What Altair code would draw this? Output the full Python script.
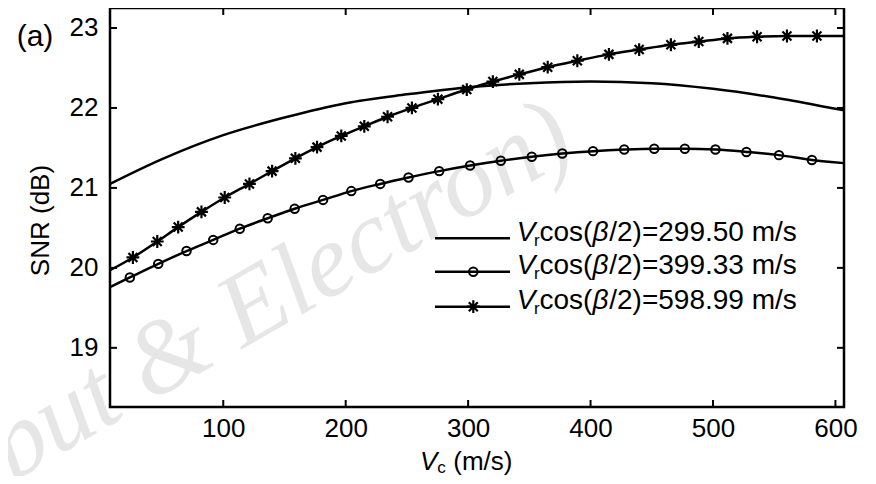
import altair as alt
import pandas as pd

# ---------------- data ----------------
x_ticks = [100, 200, 300, 400, 500, 600]
y_ticks = [19, 20, 21, 22, 23]

labels = ["299.50", "399.33", "598.99"]

# Vr cos(beta/2) = 299.50 m/s  (plain line)
solid_x = [7.5, 50, 100, 150, 200, 250, 300, 350, 400, 450, 500, 550, 600, 607]
solid_y = [21.05, 21.36, 21.66, 21.88, 22.06, 22.17, 22.26, 22.31, 22.33, 22.31, 22.24, 22.13, 21.99, 21.97]

# Vr cos(beta/2) = 399.33 m/s  (circles)
circ_x = [23.7, 46.9, 70.0, 91.8, 113.5, 136.3, 158.3, 181.5, 204.6, 228.2, 251.3, 276.4, 301.6, 326.7,
          352.0, 376.9, 402.0, 427.5, 452.0, 477.0, 502.0, 527.3, 553.9, 580.8]
circ_y = [19.88, 20.05, 20.21, 20.35, 20.49, 20.62, 20.74, 20.85, 20.96, 21.05, 21.13, 21.21, 21.28, 21.34,
          21.39, 21.43, 21.46, 21.48, 21.49, 21.49, 21.48, 21.45, 21.41, 21.35]
circ_ends_x = [7.5, 607]
circ_ends_y = [19.76, 21.31]

# Vr cos(beta/2) = 598.99 m/s  (asterisks)
star_x = [26.2, 46.1, 63.2, 82.2, 101.2, 121.4, 139.9, 158.9, 176.6, 196.4, 215.2, 234.2, 254.1, 275.3,
          298.9, 320.2, 341.8, 365.0, 389.2, 415.0, 439.7, 465.6, 488.4, 511.8, 536.0, 560.4, 584.9]
star_y = [20.13, 20.33, 20.51, 20.70, 20.88, 21.05, 21.21, 21.37, 21.51, 21.65, 21.77, 21.89, 22.00, 22.11,
          22.23, 22.33, 22.42, 22.51, 22.59, 22.67, 22.73, 22.79, 22.83, 22.87, 22.89, 22.90, 22.90]
star_ends_x = [7.5, 607]
star_ends_y = [19.97, 22.90]

# ---------------- tables ----------------
rows = []
for x, y in zip(solid_x, solid_y):
    rows.append({"s": "a", "x": x, "y": y})
cx = [circ_ends_x[0]] + circ_x + [circ_ends_x[1]]
cy = [circ_ends_y[0]] + circ_y + [circ_ends_y[1]]
for x, y in zip(cx, cy):
    rows.append({"s": "b", "x": x, "y": y})
sx = [star_ends_x[0]] + star_x + [star_ends_x[1]]
sy = [star_ends_y[0]] + star_y + [star_ends_y[1]]
for x, y in zip(sx, sy):
    rows.append({"s": "c", "x": x, "y": y})
lines_df = pd.DataFrame(rows)
circ_df = pd.DataFrame({"x": circ_x, "y": circ_y})
star_df = pd.DataFrame({"x": star_x, "y": star_y})

# ---------------- layout ----------------
W, H = 734, 399
FONT = "Liberation Sans"
STAR = "M-1,0L1,0M0,-1L0,1M-0.7,-0.7L0.7,0.7M-0.7,0.7L0.7,-0.7"
CSIZE, SSIZE = 72, 165

xs = alt.Scale(domain=[7.5, 607], nice=False, zero=False)
ys = alt.Scale(domain=[18.26, 23.25], nice=False, zero=False)

x_axis = alt.Axis(values=x_ticks, ticks=False, tickSize=0, domain=False, grid=False, labelFont=FONT,
                  labelFontSize=26, labelColor="black", labelPadding=8, labelFlush=False,
                  labelOverlap=False, title=None)
y_axis = alt.Axis(values=y_ticks, ticks=False, tickSize=0, domain=False, grid=False, labelFont=FONT,
                  labelFontSize=26, labelColor="black", labelPadding=12, labelFlush=False,
                  labelOverlap=False, title="SNR (dB)", titleFont=FONT, titleFontSize=26,
                  titleFontWeight="normal", titleColor="black", titleAngle=270, titleX=-70, titleY=212,
                  titleAlign="center", titleBaseline="middle")


def X(f):
    return alt.X(f, type="quantitative", scale=xs, axis=x_axis)


def Y(f):
    return alt.Y(f, type="quantitative", scale=ys, axis=y_axis)


def txt(t, x, y, size=26, style="normal", font=FONT, color="black", angle=0):
    kw = dict(font=font, fontSize=size, fontStyle=style, color=color, align="left", baseline="alphabetic")
    if angle:
        kw["angle"] = angle
    return alt.Chart(pd.DataFrame({"t": [t]})).mark_text(**kw).encode(
        text="t:N", x=alt.value(x), y=alt.value(y))


layers = []
# watermark
layers.append(txt("put & Electron)", -98, 474, size=104, style="italic", font="Liberation Serif",
                  color="#e6e6e6", angle=330))

# curves
layers.append(alt.Chart(lines_df).mark_line(color="black", strokeWidth=2.5, interpolate="monotone").encode(
    x=X("x"), y=Y("y"), detail="s:N"))
layers.append(alt.Chart(circ_df).mark_point(shape="circle", size=CSIZE, filled=False, color="black",
                                            strokeWidth=2, opacity=1).encode(x=X("x"), y=Y("y")))
layers.append(alt.Chart(star_df).mark_point(shape=STAR, size=SSIZE, filled=False, color="black",
                                            strokeWidth=2.2, opacity=1).encode(x=X("x"), y=Y("y")))

# inward ticks
xt = pd.DataFrame({"x": x_ticks})
yt = pd.DataFrame({"y": y_ticks})
layers.append(alt.Chart(xt).mark_rule(color="black", strokeWidth=2).encode(
    x=X("x"), y=alt.value(H), y2=alt.value(H - 7)))
layers.append(alt.Chart(xt).mark_rule(color="black", strokeWidth=2).encode(
    x=X("x"), y=alt.value(0), y2=alt.value(7)))
layers.append(alt.Chart(yt).mark_rule(color="black", strokeWidth=2).encode(
    y=Y("y"), x=alt.value(0), x2=alt.value(7)))
layers.append(alt.Chart(yt).mark_rule(color="black", strokeWidth=2).encode(
    y=Y("y"), x=alt.value(W), x2=alt.value(W - 7)))

# legend
LS = 28
base_y = [232.7, 266.3, 300.7]
line_y = [230.3, 263.7, 298.7]
for i, lab in enumerate(labels):
    ly = line_y[i]
    layers.append(alt.Chart(pd.DataFrame({"k": [0]})).mark_rule(color="black", strokeWidth=2.5).encode(
        x=alt.value(325), x2=alt.value(400), y=alt.value(ly)))
    if i == 1:
        layers.append(alt.Chart(pd.DataFrame({"k": [0]})).mark_point(
            shape="circle", size=CSIZE, filled=False, color="black", strokeWidth=2, opacity=1).encode(
            x=alt.value(363.3), y=alt.value(ly)))
    if i == 2:
        layers.append(alt.Chart(pd.DataFrame({"k": [0]})).mark_point(
            shape=STAR, size=SSIZE, filled=False, color="black", strokeWidth=2.2, opacity=1).encode(
            x=alt.value(363.3), y=alt.value(ly)))
    by = base_y[i]
    x0 = 406.7
    layers.append(txt("V", x0, by, LS, "italic"))
    xr = x0 + 0.667 * LS - 1.5
    layers.append(txt("r", xr, by + 5, 17))
    xc = xr + 0.333 * 17
    layers.append(txt("cos(", xc, by, LS))
    xb = xc + 1.889 * LS
    layers.append(txt("\u03b2", xb, by, LS, "italic"))
    xt2 = xb + 0.6 * LS
    layers.append(txt("/2)=" + lab + " m/s", xt2, by, LS))

# x axis title
layers.append(txt("V", 310, 462, 26, "italic"))
layers.append(txt("c", 327.3, 464.7, 17))
layers.append(txt("(m/s)", 343.3, 462, 26))

# panel label
layers.append(txt("(a)", -93.3, 38, 30))

chart = alt.layer(*layers).properties(
    width=W, height=H,
    padding={"left": 102, "top": 0, "right": 24, "bottom": 69},
    autosize=alt.AutoSizeParams(type="none"),
    background="white",
).configure_view(stroke="black", strokeWidth=2.5)

chart.save("out.html", embed_options={"renderer": "svg", "actions": False})
